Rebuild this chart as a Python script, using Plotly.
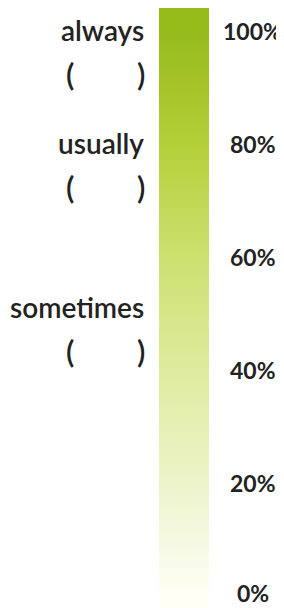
import numpy as np
import plotly.graph_objects as go

# ---- data ----
tick_values = [0, 20, 40, 60, 80, 100]
tick_labels = ["0%", "20%", "40%", "60%", "80%", "100%"]
categories = ["always", "usually", "sometimes"]
category_values = [100, 80, 51]

# gradient colour stops (percent -> colour)
stop_values = [0, 10, 20, 40, 60, 80, 90, 100]
stop_colors = ["#fffff6", "#f5f9e2", "#edf4cb", "#dfeb9f", "#cde070",
               "#b4d03a", "#a6c42a", "#96bc1c"]

y_range = [-1.95, 104.2]

# continuous scale levels for the gradient bar
levels = np.linspace(y_range[0], y_range[1], 500)

colorscale = [[v / 100, c] for v, c in zip(stop_values, stop_colors)]

fig = go.Figure()
fig.add_trace(go.Heatmap(
    x=[0],
    y=levels,
    z=[[v] for v in levels],
    zmin=0, zmax=100,
    colorscale=colorscale,
    showscale=False,
    zsmooth="best",
    hoverinfo="skip",
))

# page has an 8px body margin; figure fills the remaining window
OFF = 8
W, H = 284 - OFF, 608 - OFF


def px(x):
    return (x - OFF) / W


annotations = []
for v, t in zip(tick_values, tick_labels):
    annotations.append(dict(
        x=px(253), xref="paper", y=v, yref="y", text=t, showarrow=False,
        xanchor="center", yanchor="middle", yshift=4 if v == 0 else 1,
        font=dict(family="Lato", size=23, color="#222222", weight=700),
    ))
for v, t in zip(category_values, categories):
    annotations.append(dict(
        x=px(146), xref="paper", y=v, yref="y", text=t, showarrow=False,
        xanchor="right", yanchor="middle", yshift=2,
        font=dict(family="Lato", size=28, color="#222222", weight=600),
    ))
    for xp, p in ((70, "("), (141, ")")):
        annotations.append(dict(
            x=px(xp), xref="paper", y=v, yref="y", text=p, showarrow=False,
            xanchor="center", yanchor="middle", yshift=-42,
            font=dict(family="Lato", size=31, color="#222222", weight=600),
        ))

fig.update_layout(
    width=W, height=H,
    margin=dict(l=0, r=0, t=0, b=0),
    paper_bgcolor="white", plot_bgcolor="white",
    xaxis=dict(domain=[px(159), px(209)], range=[-0.5, 0.5], visible=False,
               fixedrange=True),
    yaxis=dict(range=y_range, visible=False, fixedrange=True),
    annotations=annotations,
    showlegend=False,
)

fig.write_html("out.html", config={"displayModeBar": False})
